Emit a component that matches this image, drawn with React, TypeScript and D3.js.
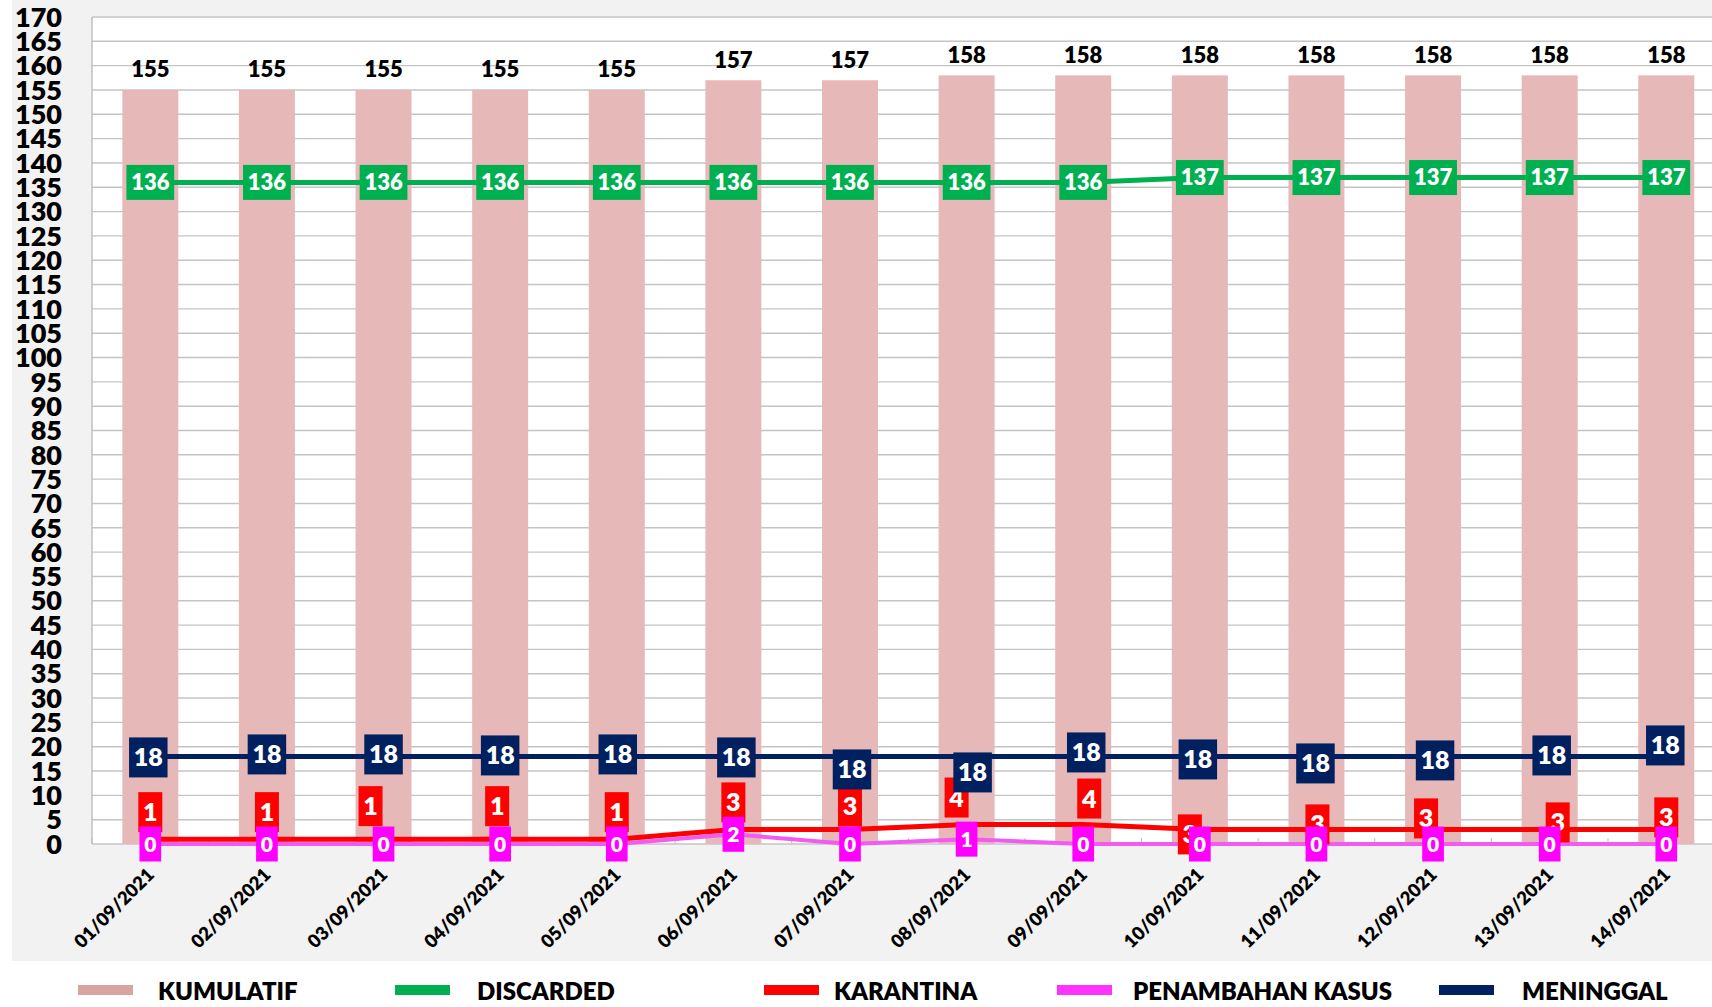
import { useEffect } from 'react';
import * as d3 from 'd3';

// --- data ---
const dates = [
  '01/09/2021', '02/09/2021', '03/09/2021', '04/09/2021', '05/09/2021', '06/09/2021', '07/09/2021',
  '08/09/2021', '09/09/2021', '10/09/2021', '11/09/2021', '12/09/2021', '13/09/2021', '14/09/2021',
];
const kumulatif = [155, 155, 155, 155, 155, 157, 157, 158, 158, 158, 158, 158, 158, 158];
const discarded = [136, 136, 136, 136, 136, 136, 136, 136, 136, 137, 137, 137, 137, 137];
const karantina = [1, 1, 1, 1, 1, 3, 3, 4, 4, 3, 3, 3, 3, 3];
const penambahanKasus = [0, 0, 0, 0, 0, 2, 0, 1, 0, 0, 0, 0, 0, 0];
const meninggal = [18, 18, 18, 18, 18, 18, 18, 18, 18, 18, 18, 18, 18, 18];
const yTickValues = d3.range(0, 175, 5);
const legendNames = ['KUMULATIF', 'DISCARDED', 'KARANTINA', 'PENAMBAHAN KASUS', 'MENINGGAL'];

// --- layout / style ---
const W = 1712;
const H = 1007;
const FONT = 'Lato, "Open Sans", sans-serif';
const WEIGHT = 800;
const plot = { left: 92, top: 17, right: 1724.6, bottom: 844 };

// label nudges (excel moved some labels around to avoid overlap)
const redDx = [0, 0, -13, -3, 0, 0, 0, -10, 6, -10, 1, -7, 8, 0];
const redDy = [-27, -27, -33, -33, -27, -27, -23, -27, -26, 5, -5, -11, -7, -12];
const navyDx = [-2, 0, 0, 0, 1, 3, 2, 6, 3, -2, -1, 2, 2, -1];
const navyDy = [1, -2, -2, -1, -2, 1, 13, 16, -4, 3, 7, 4, -1, -11];

const legendSwatchX = [78, 395, 764, 1057, 1439];
const legendTextX = [158, 477, 834, 1133, 1522];
const legendColors = ['#d9a3a2', '#00b050', '#ff0000', '#ff33ff', '#002060'];

const x = d3.scaleBand<string>()
  .domain(dates)
  .range([plot.left, plot.right])
  .paddingInner(0.52)
  .paddingOuter(0.26);

const y = d3.scaleLinear().domain([0, 170]).range([plot.bottom, plot.top]);

const cx = (i: number) => (x(dates[i]) as number) + x.bandwidth() / 2;

const lineGen = (vals: number[]) =>
  d3.line<number>()
    .x((_, i) => cx(i))
    .y((d) => y(d))(vals) as string;

type LabelProps = {
  vals: number[];
  color: string;
  fontSize: number;
  height: number;
  dx?: number[];
  dy?: number[];
};

// boxed data labels (white bold text on a coloured box)
const BoxLabels = ({ vals, color, fontSize, height, dx, dy }: LabelProps) => (
  <g>
    {vals.map((v, i) => {
      const txt = String(v);
      const w = txt.length * fontSize * 0.58 + 9.5;
      const px = cx(i) + (dx ? dx[i] : 0);
      const py = y(v) + (dy ? dy[i] : 0);
      return (
        <g key={i}>
          <rect x={px - w / 2} y={py - height / 2} width={w} height={height} fill={color} />
          <text x={px} y={py} dy="0.36em" textAnchor="middle" fill="#fff"
            fontFamily={FONT} fontWeight={WEIGHT} fontSize={fontSize}>{txt}</text>
        </g>
      );
    })}
  </g>
);

function App() {
  useEffect(() => {
    document.body.style.margin = '0';
  }, []);

  const boundaries = d3.range(0, dates.length + 1).map((i) => plot.left + i * x.step());

  return (
    <svg width={W} height={H} style={{ display: 'block', background: '#fff' }}>
      {/* chart area background */}
      <rect x={12} y={0} width={W - 12} height={961} fill="#f2f2f2" />
      <rect x={plot.left} y={plot.top} width={W - plot.left} height={plot.bottom - plot.top} fill="#fff" />

      {/* gridlines */}
      {yTickValues.map((t) => (
        <line key={t} x1={plot.left} x2={W} y1={y(t)} y2={y(t)} stroke="#c4c4c4" strokeWidth={1.4} />
      ))}
      <line x1={plot.left} x2={plot.left} y1={plot.top} y2={plot.bottom} stroke="#bdbdbd" strokeWidth={1.4} />

      {/* y axis labels */}
      {yTickValues.map((t) => (
        <text key={t} x={62} y={y(t)} dy="0.36em" textAnchor="end" fill="#000"
          fontFamily={FONT} fontWeight={WEIGHT} fontSize={27}>{t}</text>
      ))}

      {/* bars: KUMULATIF */}
      {kumulatif.map((v, i) => (
        <rect key={i} x={x(dates[i])} y={y(v)} width={x.bandwidth()} height={y(0) - y(v)} fill="#e6b8b7" />
      ))}
      {kumulatif.map((v, i) => (
        <text key={i} x={cx(i)} y={y(v) - 12.5} textAnchor="middle" fill="#000"
          fontFamily={FONT} fontWeight={WEIGHT} fontSize={22}>{v}</text>
      ))}

      {/* small category ticks */}
      {boundaries.map((bx, i) => (
        <line key={i} x1={bx} x2={bx} y1={plot.bottom} y2={plot.bottom - 6} stroke="#bdbdbd" strokeWidth={1} />
      ))}

      {/* lines */}
      <path d={lineGen(discarded)} fill="none" stroke="#00b050" strokeWidth={5} />
      <path d={lineGen(meninggal)} fill="none" stroke="#002060" strokeWidth={5} />
      <path d={lineGen(karantina)} fill="none" stroke="#ff0000" strokeWidth={5} />
      <path d={lineGen(penambahanKasus)} fill="none" stroke="#f25af2" strokeWidth={4} />

      {/* data labels */}
      <BoxLabels vals={karantina} color="#ff0000" fontSize={25} height={40} dx={redDx} dy={redDy} />
      <BoxLabels vals={penambahanKasus} color="#ff00ff" fontSize={21} height={35} />
      <BoxLabels vals={meninggal} color="#002060" fontSize={25} height={40} dx={navyDx} dy={navyDy} />
      <BoxLabels vals={discarded} color="#00b050" fontSize={22} height={35} />

      {/* x axis labels */}
      {dates.map((d, i) => (
        <text key={d} transform={`translate(${cx(i) + 5},${plot.bottom + 32}) rotate(-45)`}
          textAnchor="end" fill="#000" fontFamily={FONT} fontWeight={WEIGHT} fontSize={18.5}>{d}</text>
      ))}

      {/* legend */}
      {legendNames.map((name, i) => (
        <g key={name}>
          <rect x={legendSwatchX[i]} y={985} width={55} height={10} fill={legendColors[i]} />
          <text x={legendTextX[i]} y={1000} fill="#000" fontFamily={FONT} fontWeight={WEIGHT} fontSize={24}>{name}</text>
        </g>
      ))}
    </svg>
  );
}

export default App;
